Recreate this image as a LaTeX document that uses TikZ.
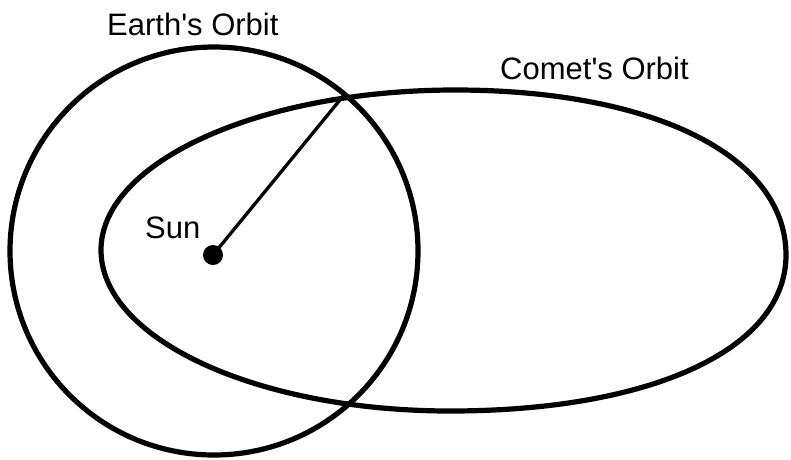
\documentclass[tikz,border=0pt]{standalone}
\usepackage{fontspec}
\setmainfont{Liberation Sans}
\begin{document}
\begin{tikzpicture}[x=1pt,y=-1pt,
  orbit/.style={line width=5.2pt},
  lbl/.style={inner sep=0pt,anchor=base west,font=\fontsize{31}{31}\selectfont},
  sundot/.style={circle,fill=black,inner sep=0pt,minimum size=20pt}]
\useasboundingbox (0,0) rectangle (791,459);
\fill[white] (0,0) rectangle (791,459);
% Earth's orbit
\draw[orbit] (214,251) circle[radius=204];
% Comet's orbit
\draw[orbit] (101,250) .. controls (101,162) and (260,90) .. (455,90)
  .. controls (654,90) and (786,156) .. (786,255)
  .. controls (786,349) and (652,411) .. (450,411)
  .. controls (257,411) and (101,339) .. cycle;
% Sun
\node[sundot] (sun) at (213,255) {};
\coordinate (X) at (344,95);
\draw[line width=3.3pt] (sun.center) -- (X);
% Labels
\node[lbl] (earthlbl) at (107,35) {Earth\textquotesingle s Orbit};
\node[lbl] (cometlbl) at (500,79) {Comet\textquotesingle s Orbit};
\node[lbl] (sunlbl) at (145,238) {Sun};
\end{tikzpicture}
\end{document}
